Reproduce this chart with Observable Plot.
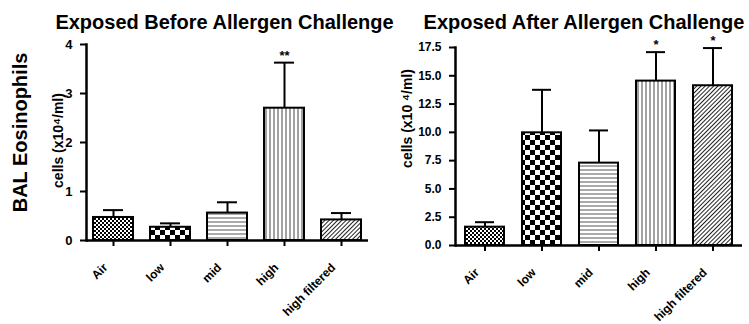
<!DOCTYPE html>
<html><head><meta charset="utf-8">
<script src="https://cdn.jsdelivr.net/npm/d3@7"></script>
<script src="https://cdn.jsdelivr.net/npm/@observablehq/plot@0.6"></script>
<style>
html,body{margin:0;padding:0;background:#fff;}
#wrap{position:relative;width:749px;height:324px;overflow:hidden;background:#fff;}
#wrap svg{position:absolute;left:0;top:0;}
</style></head><body>
<svg width="0" height="0" style="position:absolute">
<defs>
<pattern id="p-air" width="4" height="4" patternUnits="userSpaceOnUse"><rect width="4" height="4" fill="#fff"/><rect width="2" height="2" fill="#000"/><rect x="2" y="2" width="2" height="2" fill="#000"/></pattern>
<pattern id="p-low" width="10" height="10" patternUnits="userSpaceOnUse"><rect width="10" height="10" fill="#fff"/><rect width="5" height="5" fill="#000"/><rect x="5" y="5" width="5" height="5" fill="#000"/></pattern>
<pattern id="p-mid" width="4" height="4" patternUnits="userSpaceOnUse"><rect width="4" height="4" fill="#fff"/><rect y="1.5" width="4" height="1" fill="#555"/></pattern>
<pattern id="p-high" width="4" height="4" patternUnits="userSpaceOnUse"><rect width="4" height="4" fill="#fff"/><rect x="1.5" width="1" height="4" fill="#444"/></pattern>
<pattern id="p-hf" width="3" height="3" patternUnits="userSpaceOnUse" patternTransform="rotate(45)"><rect width="3" height="3" fill="#fff"/><rect x="1" width="1" height="3" fill="#222"/></pattern>
</defs></svg>
<div id="wrap"></div>
<script>
const categories = ["Air", "low", "mid", "high", "high filtered"];
const beforeMean = [0.47, 0.27, 0.56, 2.70, 0.42];
const beforeSem  = [0.15, 0.08, 0.22, 0.93, 0.14];
const beforeStars = ["", "", "", "**", ""];
const afterMean = [1.62, 9.96, 7.28, 14.53, 14.12];
const afterSem  = [0.44, 3.80, 2.89, 2.56, 3.33];
const afterStars = ["", "", "", "*", "*"];
const beforeTicks = [0, 1, 2, 3, 4];
const afterTicks = [0, 2.5, 5, 7.5, 10, 12.5, 15, 17.5];
const titles = ["Exposed Before Allergen Challenge", "Exposed After Allergen Challenge"];
const outerLabel = "BAL Eosinophils";
const unitLabels = ["cells (x10\u2074/ml)", "cells (x10 \u2074/ml)"];

const patternFor = {"Air": "url(#p-air)", "low": "url(#p-low)", "mid": "url(#p-mid)", "high": "url(#p-high)", "high filtered": "url(#p-hf)"};

function rows(means, sems, stars) {
  return categories.map((c, i) => ({cat: c, mean: means[i], top: means[i] + sems[i], star: stars[i]}));
}

function panel(o) {
  const data = rows(o.means, o.sems, o.stars);
  const marks = [
    Plot.barY(data, {x: "cat", y: "mean", fill: d => patternFor[d.cat], stroke: "black", strokeWidth: 2}),
    Plot.ruleX(data, {x: "cat", y1: "mean", y2: "top", stroke: "black", strokeWidth: 2}),
    Plot.tickY(data, {x: "cat", y: "top", stroke: "black", strokeWidth: 2, insetLeft: 10, insetRight: 10}),
    Plot.text(data, {x: "cat", y: "top", text: "star", dy: -7, fontSize: 13, fontWeight: "bold"}),
    Plot.ruleY([0], {stroke: "black", strokeWidth: 2.5}),
    Plot.frame({anchor: "left", stroke: "black", strokeWidth: 2.5}),
    Plot.axisY({ticks: o.ticks, tickFormat: o.fmt, tickSize: 6, tickPadding: 8, fontSize: o.tickFont, fontWeight: "bold", strokeWidth: 2, label: null}),
    Plot.axisX({tickSize: 6, strokeWidth: 2, tickFormat: () => "", label: null}),
    Plot.text(data, {x: "cat", y: 0, text: "cat", rotate: -45, textAnchor: "end", dx: -8, dy: 25, fontSize: 12, fontWeight: "bold"}),
    Plot.text([o.title], {frameAnchor: "top", lineAnchor: "bottom", textAnchor: "middle", dx: o.titleDx, dy: o.titleDy, fontSize: 20, fontWeight: "bold"}),
    Plot.text([o.unit], {frameAnchor: "left", textAnchor: "middle", rotate: -90, dx: o.unitDx, dy: o.unitDy, fontSize: 14, fontWeight: "bold"})
  ];
  if (o.outer) marks.push(Plot.text([o.outer], {frameAnchor: "left", textAnchor: "middle", rotate: -90, dx: -66, dy: -10, fontSize: 20, fontWeight: "bold"}));
  const svg = Plot.plot({
    width: 749, height: 324,
    marginLeft: o.ml, marginRight: o.mr, marginTop: o.mt, marginBottom: o.mb,
    x: {domain: categories, paddingInner: o.pi, paddingOuter: o.po, axis: null},
    y: {domain: o.yDomain, axis: null},
    style: {background: "transparent", overflow: "visible", fontFamily: "'Liberation Sans', Arial, sans-serif", color: "black", maxWidth: "none"},
    marks
  });
  document.getElementById("wrap").appendChild(svg);
}

panel({means: beforeMean, sems: beforeSem, stars: beforeStars, ticks: beforeTicks, fmt: d3.format("d"), tickFont: 13,
  ml: 86, mr: 381, mt: 44, mb: 84, pi: 0.3, po: 0.1, yDomain: [0, 4],
  title: titles[0], titleDx: -3, titleDy: -16, unit: unitLabels[0], unitDx: -28, unitDy: -2, outer: outerLabel});
panel({means: afterMean, sems: afterSem, stars: afterStars, ticks: afterTicks, fmt: d3.format(".1f"), tickFont: 12,
  ml: 455, mr: 7, mt: 47, mb: 79, pi: 0.32, po: 0.17, yDomain: [0, 17.5],
  title: titles[1], titleDx: -15, titleDy: -19, unit: unitLabels[1], unitDx: -48, unitDy: -28});
</script>
</body></html>
